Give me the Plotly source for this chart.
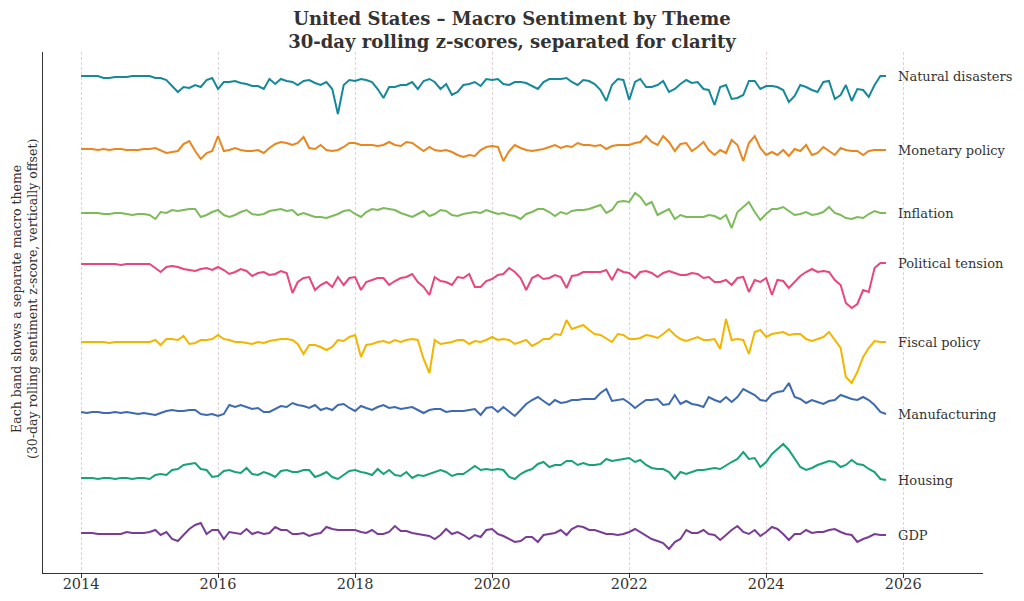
import pandas as pd
import plotly.graph_objects as go

dates = pd.date_range("2014-01-01", periods=142, freq="MS")

themes = ["Natural disasters", "Monetary policy", "Inflation", "Political tension",
          "Fiscal policy", "Manufacturing", "Housing", "GDP"]

natural_disasters = [
    0, 0, 0, 0, -0.2, -0.2, -0.1, -0.1, -0.1, 0, 0, 0, 0, -0.2, -0.2,
    -0.4, -1.0, -1.6, -1.1, -1.2, -0.9, -1.1, -0.4, -0.2, -1.3, -0.6, -0.6, -0.5, -0.7, -0.8,
    -1.0, -1.0, -1.3, -0.3, -0.8, -0.3, -0.5, -0.6, -0.9, -0.5, -0.4, -0.7, -0.9, -0.6, -1.3, -3.8, -0.9, -0.4,
    -0.5, -0.3, -0.4, -0.6, -1.3, -2.2, -1.1, -1.1, -0.9, -0.9, -0.6, -1.3, -0.5, -0.3, -0.6, -1.3, -0.8, -1.9, -1.6, -0.9, -0.8, -0.6, -1.0, -0.3,
    -0.4, -0.3, -0.8, -0.9, -0.6, -0.6, -0.7, -1.0, -1.3, -0.6, -0.3, -0.3, -0.3, -0.2, -0.6, -0.9, -0.4, -0.5, -0.8, -1.4, -2.5, -0.9, -0.3, -0.4,
    -2.4, -0.6, -0.3, -1.1, -1.1, -0.9, -0.5, -1.6, -1.3, -0.8, -0.4, -0.7, -0.6, -1.3, -1.4, -2.9, -1.1, -0.9, -2.3, -2.2, -1.9, -0.5, -0.5, -1.3,
    -1.0, -1.0, -1.1, -1.4, -2.6, -2.0, -0.9, -1.1, -1.4, -1.6, -0.6, -0.5, -2.3, -1.9, -0.9, -2.5, -1.3, -1.4, -2.1, -0.9, 0, 0,
]
monetary_policy = [
    0, 0, 0, -0.1, 0, -0.1, 0, 0, -0.1, -0.1, -0.1, 0, 0, 0.1, -0.1,
    -0.4, -0.3, -0.2, 0.5, 0.8, -0.2, -1.0, -0.4, -0.2, 1.3, -0.2, -0.1, 0.1, -0.1, -0.2,
    -0.2, -0.1, -0.4, 0.1, 0.5, 0.7, 0.6, 0.4, 0.6, 1.2, 0.1, 0, 0.4, -0.1, -0.2, -0.1, 0.2, 0.6,
    0.6, 0.4, 0.4, 0.4, 0.3, 0.4, 0.7, 0.4, 0.3, 0.7, 0.6, 0.2, -0.2, 0.2, -0.1, -0.2, -0.1, -0.3, -0.6, -0.8, -0.6, -0.7, -0.1, 0.2,
    0.3, 0.2, -1.2, -0.2, 0.4, 0.1, -0.1, -0.2, -0.1, 0, 0.2, 0.4, 0.1, 0.3, 0.2, 0.6, 0.4, 0.4, 0.3, 0.4, 0, 0.3, 0.4, 0.4,
    0.4, 0.6, 0.7, 1.3, 0.7, 0.4, 1.3, 0.7, -0.2, 0.5, 0.6, -0.2, 0.2, 0.7, -0.1, -0.6, -0.1, -0.4, 0.9, 0.4, -1.2, 0.6, 1.3, 0.1,
    -0.6, -0.3, -0.6, -0.1, -0.7, 0, -0.2, 0.4, -0.6, -0.4, 0.2, -0.2, -0.6, 0.1, -0.1, -0.2, -0.2, -0.6, -0.2, -0.1, -0.1, -0.1,
]
inflation = [
    0, 0, 0, 0, -0.1, -0.1, 0, 0, -0.1, -0.2, -0.1, -0.1, -0.2, -0.6, 0.1,
    0, 0.3, 0.2, 0.3, 0.4, 0.4, -0.4, -0.2, 0.1, 0.3, -0.2, -0.4, -0.2, 0.1, 0.3,
    -0.1, -0.2, -0.1, 0.2, 0.3, 0.4, 0.2, 0.3, -0.2, 0, -0.2, -0.4, -0.4, -0.5, -0.3, -0.1, 0.2, 0.3,
    -0.1, -0.4, 0.1, 0.4, 0.3, 0.5, 0.4, 0.3, 0, -0.2, -0.4, -0.1, 0.2, -0.3, -0.1, 0.3, 0.2, -0.2, -0.3, -0.1, 0, 0.1, 0, 0.3,
    0.1, -0.1, 0, -0.2, -0.3, -0.6, -0.1, 0.1, 0.4, 0.4, 0.1, -0.3, 0.1, -0.1, 0.2, 0.3, 0.3, 0.4, 0.6, 0.8, 0, 0.3, 1.1, 1.2,
    1.1, 2.0, 1.6, 0.8, 1.1, -0.2, 0.1, 0.4, -0.6, -0.2, -0.4, -0.4, -0.4, -0.4, -0.2, -0.3, -0.6, -0.2, -1.5, 0.1, 0.6, 1.1, 0.1, -0.7,
    -0.1, 0.4, 0.4, 0.6, 0.2, -0.2, -0.1, 0.1, -0.2, -0.1, 0.1, 0.6, 0, -0.2, -0.5, -0.6, -0.4, -0.5, -0.1, 0.2, 0, 0,
]
political_tension = [
    0, 0, 0, 0, 0, 0, 0, -0.1, 0, 0, 0, 0, 0, -0.4, -0.8,
    -0.3, -0.2, -0.3, -0.5, -0.6, -0.7, -0.5, -0.4, -0.6, -0.3, -0.6, -1.0, -0.8, -0.5, -0.7,
    -1.2, -0.9, -0.8, -1.1, -1.0, -0.7, -0.9, -2.9, -1.8, -1.4, -1.3, -2.6, -2.1, -1.8, -2.3, -1.3, -2.1, -1.4,
    -1.3, -2.6, -1.8, -1.6, -1.4, -1.4, -2.1, -1.7, -1.4, -1.3, -1.0, -1.8, -2.3, -3.1, -1.3, -1.7, -1.8, -2.1, -1.3, -1.4, -1.0, -2.3, -2.3, -1.7,
    -1.5, -1.1, -1.0, -0.4, -0.8, -1.4, -2.6, -1.4, -1.1, -1.5, -1.4, -1.1, -1.3, -2.4, -1.2, -1.1, -0.8, -0.8, -0.8, -0.8, -0.6, -1.6, -0.5, -0.8,
    -0.9, -1.4, -0.8, -0.7, -0.9, -1.3, -0.9, -0.7, -0.9, -1.1, -1.1, -0.9, -1.0, -1.4, -1.3, -1.8, -1.8, -1.6, -2.1, -1.4, -1.3, -2.8, -1.6, -1.8,
    -1.4, -3.1, -1.6, -1.7, -2.4, -1.8, -1.2, -0.8, -0.5, -0.8, -0.7, -0.8, -1.6, -2.1, -3.9, -4.4, -4.0, -2.6, -2.8, -0.4, 0.1, 0.1,
]
fiscal_policy = [
    0, 0, 0, 0, 0, -0.1, 0, 0, 0, 0, 0, 0, 0, 0.2, -0.3,
    0.3, 0.3, 0.2, 0.6, -0.2, -0.1, 0.2, 0.2, 0.3, 0.7, 0.3, 0.2, 0, 0, -0.1,
    -0.2, 0, -0.1, 0.1, 0.2, 0.3, 0.3, 0.2, -0.2, -1.2, -0.3, -0.3, -0.5, -0.8, -0.5, 0.2, 0.1, 0.5,
    0.7, -1.5, -0.3, -0.2, 0, 0.1, -0.1, 0.2, 0, 0.2, 0.3, 0.2, -1.7, -3.1, 0.2, -0.2, -0.1, 0, 0.2, 0.2, -0.2, 0.1, 0, 0.2,
    0.5, 0.2, 0.3, 0.2, -0.2, 0, 0.2, -0.4, -0.1, 0.3, 0.3, 0.8, 0.7, 2.2, 1.3, 1.5, 1.7, 1.2, 0.8, 0.7, 0.3, 0, 0.8, 0.7,
    0.3, 0.3, 0.4, 0.7, 0.6, 0.4, 0.8, 1.3, 0.7, 0.3, 0.1, 0.3, 0.5, 0.2, 0.2, 0.3, -0.7, 2.3, 0.2, 0.3, 0.2, -1.2, 1.0, 1.2,
    0.5, 0.8, 0.9, 1.0, 0.7, 0.8, 0.8, 0.3, 0.1, 0.3, 0.5, 1.0, 0.2, -0.6, -3.5, -4.1, -3.0, -1.5, -0.6, 0.1, 0, 0,
]
manufacturing = [
    0, -0.1, 0, 0, -0.1, -0.1, 0, -0.1, 0, -0.1, -0.2, -0.1, -0.2, -0.3, -0.1,
    0.1, 0.2, 0.1, 0.1, 0.2, 0.2, -0.2, -0.3, -0.2, -0.4, -0.2, 0.7, 0.5, 0.7, 0.5,
    0.3, 0.4, 0, 0, 0.3, 0.6, 0.5, 0.9, 0.7, 0.6, 0.4, 0.7, 0.2, 0.4, 0.2, 0.7, 0.8, 0.4,
    0.1, 0.6, 0.4, 0.2, 0.5, 0.7, 0.4, 0.5, 0.3, 0.4, 0.5, 0.2, -0.1, 0.2, 0.3, 0.3, 0, 0.1, 0.1, 0.1, 0.2, 0.3, -0.3, 0.4,
    0.5, 0, 0.5, 0, -0.4, 0.2, 0.8, 1.2, 1.5, 1.1, 0.7, 1.2, 0.9, 1.0, 1.2, 1.2, 1.3, 1.3, 1.3, 1.9, 2.3, 1.1, 1.2, 1.3,
    0.9, 0.4, 0.8, 1.2, 1.2, 1.3, 0.7, 0.8, 1.7, 0.8, 1.1, 0.8, 0.7, 0.5, 1.5, 1.2, 1.0, 1.5, 1.0, 1.5, 2.3, 2.0, 1.7, 1.2,
    1.1, 1.8, 2.0, 2.1, 2.9, 1.5, 1.3, 0.9, 1.2, 1.0, 0.8, 1.1, 1.2, 1.7, 1.5, 1.3, 1.2, 1.5, 1.2, 0.7, 0, -0.2,
]
housing = [
    0, 0, 0, -0.1, 0, 0, -0.1, 0, 0, -0.1, 0, 0, -0.1, 0.3, 0.4,
    0.3, 0.8, 0.9, 1.3, 1.4, 1.5, 0.9, 0.8, 0.1, 0.2, 0.7, 0.8, 0.6, 0.5, 1.0,
    0.4, 0.3, 0.6, 0.4, 0.1, 0.7, 0.8, 0.6, 0.6, 0.8, 0.8, 0.1, 0.3, 0.6, 0.1, -0.1, 0.3, 0.7,
    0.8, 0.6, 0.5, 0.3, 0.9, 0.4, 0.8, 0.3, 0.2, 0.6, 0, 0.3, 0.2, 0.4, 0.6, 0.8, 0.6, 0.2, 0.4, 0.4, 0.8, 1.2, 0.8, 0.9,
    0.8, 0.9, 0.8, 0.1, -0.1, 0.4, 0.7, 0.9, 1.4, 1.6, 1.1, 1.3, 1.3, 1.7, 1.7, 1.3, 1.5, 1.3, 1.3, 1.4, 1.9, 1.7, 1.8, 1.9,
    2.0, 1.6, 1.8, 1.3, 1.0, 0.9, 0.9, 0.6, -0.1, 0.6, 0.4, 0.6, 0.8, 0.8, 0.9, 1.0, 0.9, 1.3, 1.6, 1.9, 2.6, 1.9, 2.0, 1.1,
    1.6, 2.4, 2.9, 3.4, 2.8, 1.9, 1.1, 0.8, 1.0, 1.3, 1.5, 1.7, 1.6, 1.1, 1.3, 1.8, 1.4, 1.3, 0.9, 0.6, -0.1, -0.2,
]
gdp = [
    0, 0, 0, -0.1, -0.1, -0.1, -0.1, -0.1, 0.1, 0, 0, 0, 0.1, 0.3, -0.2,
    0.1, -0.6, -0.8, -0.2, 0.4, 0.8, 1.0, -0.1, 0.3, 0.3, -0.6, 0.1, 0, -0.1, 0.4,
    -0.1, 0.1, -0.1, 0, 0.6, 0.3, 0.3, -0.1, -0.1, 0, -0.3, -0.1, 0, 0.6, 0.4, 0.3, 0.3, 0.3,
    0.3, 0.1, 0, 0.3, -0.1, -0.1, 0.1, 0.7, 0.2, 0.2, 0, -0.1, -0.2, -0.3, -0.6, -0.2, 0.4, -0.1, 0.1, -0.2, -0.6, -0.2, -0.4, 0.3,
    0.4, -0.1, -0.3, -0.6, -0.9, -0.8, -0.4, -0.4, -0.9, -0.2, -0.1, 0, 0.3, -0.2, 0.4, 0.7, 0.6, 0.3, 0.3, 0.1, -0.1, -0.1, -0.2, -0.1,
    0.1, 0.4, 0.1, -0.2, -0.6, -0.8, -1.0, -1.6, -0.9, -0.6, 0.3, 0, 0, 0.3, -0.1, -0.2, -0.7, -0.2, 0.3, 0.7, 0.1, -0.1, 0.3, -0.3,
    0.1, 0.6, 0.4, -0.1, -0.7, -0.1, -0.1, 0.3, 0, 0.1, 0.1, 0.3, 0.4, 0.1, -0.1, -0.2, -0.9, -0.6, -0.4, -0.1, -0.2, -0.2,
]

series_values = [natural_disasters, monetary_policy, inflation, political_tension,
                 fiscal_policy, manufacturing, housing, gdp]
band_offsets = [49.7, 42.4, 36.0, 30.9, 23.1, 16.1, 9.5, 4.0]
colors = ["#15899A", "#E8871E", "#7DBB5A", "#E8467C",
          "#F2B600", "#3D6AB0", "#17A378", "#7A3D96"]

fig = go.Figure()
annotations = []
label_x = dates[-1] + pd.Timedelta(days=52)
for name, vals, off, col in zip(themes, series_values, band_offsets, colors):
    y = [v + off for v in vals]
    fig.add_trace(go.Scatter(x=dates, y=y, mode="lines", name=name,
                             line=dict(color=col, width=2), hoverinfo="x+name"))
    annotations.append(dict(x=label_x, y=y[-1], xref="x", yref="y", text=name,
                            showarrow=False, xanchor="left", yanchor="middle",
                            font=dict(family="DejaVu Serif", size=13, color="#333333")))

annotations.append(dict(
    x=-0.0191, y=0.526, xref="paper", yref="paper", textangle=-90,
    text="Each band shows a separate macro theme<br>(30-day rolling sentiment z-score, vertically offset)",
    showarrow=False, xanchor="center", yanchor="middle",
    font=dict(family="DejaVu Serif", size=12.5, color="#333333")))

fig.update_layout(
    width=1008, height=585,
    margin=dict(l=35, r=33, t=44, b=20, autoexpand=False),
    paper_bgcolor="white", plot_bgcolor="white",
    showlegend=False,
    font=dict(family="DejaVu Serif", color="#333333"),
    title=dict(text="<b>United States – Macro Sentiment by Theme<br>30-day rolling z-scores, separated for clarity</b>",
               x=0.5, xanchor="center", y=1 - 16.5 / 585, yanchor="middle", yref="container",
               font=dict(family="DejaVu Serif", size=18, color="#333333")),
    annotations=annotations,
)
fig.update_xaxes(
    type="date", range=["2013-06-12", "2027-03-02"], automargin=False,
    tick0="2014-01-01", dtick="M24", tickformat="%Y",
    showgrid=True, gridcolor="#ddd3d8", griddash="3px,2px", gridwidth=1,
    ticks="outside", ticklen=4, tickcolor="#333333", ticklabelstandoff=-7,
    showline=True, linecolor="#333333", linewidth=1.3, zeroline=False,
    tickfont=dict(family="DejaVu Serif", size=14.5, color="#333333"),
)
fig.update_yaxes(
    range=[0, 52.1], showticklabels=False, showgrid=False, zeroline=False, automargin=False,
    showline=True, linecolor="#333333", linewidth=1.3, ticks="",
)

fig.write_html("out.html")
